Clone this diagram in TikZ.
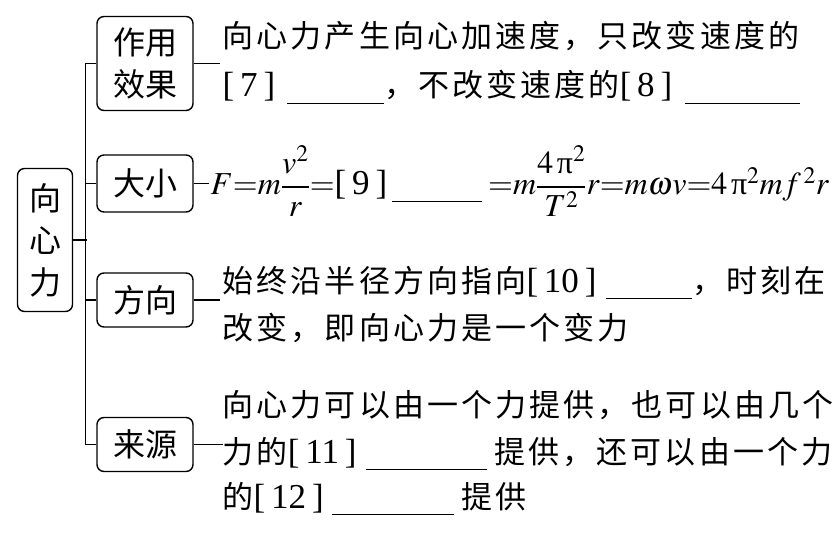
\documentclass[tikz,border=0pt]{standalone}
\usepackage{amsmath}
\usepackage{mathptmx}
\usepackage{fontspec}
\setmainfont{Liberation Serif}
\newfontfamily\cjk[LetterSpace=10]{Noto Sans CJK SC}
\newfontfamily\cjkbox{Noto Sans CJK SC}
% blank to fill in, and numbered bracket
\newcommand{\blank}[1]{\rule[-7pt]{#1}{1.4pt}}
\newcommand{\num}[1]{{\rmfamily\fontsize{35}{40}\selectfont[\,#1\,]}}

\begin{document}
\begin{tikzpicture}[x=1pt, y=-1pt, line width=1.4pt,
  topic/.style={draw, rounded corners=7pt, font=\cjkbox\fontsize{32}{42}\selectfont,
    align=center, minimum width=96pt, inner sep=0pt},
  line/.style={anchor=base west, inner sep=0pt, font=\cjk\fontsize{31}{40}\selectfont}]

  \useasboundingbox (0,0) rectangle (838,556);

  % ==========================
  % Boxes of the tree
  % ==========================
  \node[topic, minimum width=55pt, minimum height=143pt] (root) at (45,240) {向\\心\\力};
  \node[topic, minimum height=94pt] (effect) at (145,63.5) {作用\\效果};
  \node[topic, minimum height=57pt] (size) at (145,183.5) {大小};
  \node[topic, minimum height=54pt] (dir) at (145,300) {方向};
  \node[topic, minimum height=54pt] (source) at (145,444.5) {来源};

  % spine on the left
  \draw (root.east) -- ++(14,0) coordinate (hub);
  \draw (effect.west) -- ++(-11,0) |- (source.west);
  \draw (size.west) -- ++(-11,0);
  \draw (dir.west) -- ++(-11,0);

  % short stubs to the texts
  \draw (effect.east) -- ++(26,0);
  \draw (size.east) -- ++(15,0);
  \draw (dir.east) -- ++(26,0);
  \draw (source.east) -- ++(29,0);

  % ==========================
  % Texts
  % ==========================
  % effect
  \node[line] (e1) at (222,48) {向心力产生向心加速度，只改变速度的};
  \node[line] (e2) at (222,97) {\num{7}\hspace{12pt}\blank{97pt}，不改变速度的\num{8}\hspace{13pt}\blank{115pt}};

  % size
  \node[line, font=\rmfamily\fontsize{32}{40}\selectfont] (f) at (210,195)
    {$F{=}m\dfrac{v^2}{r}{=}$\num{9}\hspace{5pt}\blank{90pt}\hspace{6pt}${=}m\dfrac{4\,\text{π}^2}{T^2}r{=}m\omega v{=}4\,\text{π}^2mf^{\,2}r$};

  % direction
  \node[line] (d1) at (222,292) {始终沿半径方向指向\num{10}\hspace{10pt}\blank{86pt}，时刻在};
  \node[line] (d2) at (222,339) {改变，即向心力是一个变力};

  % source
  \node[line] (s1) at (222,416) {向心力可以由一个力提供，也可以由几个};
  \node[line] (s2) at (222,463) {力的\num{11}\hspace{10pt}\blank{121pt}\hspace{7pt}提供，还可以由一个力};
  \node[line] (s3) at (222,508) {的\num{12}\hspace{8pt}\blank{122pt}\hspace{8pt}提供};

\end{tikzpicture}
\end{document}
